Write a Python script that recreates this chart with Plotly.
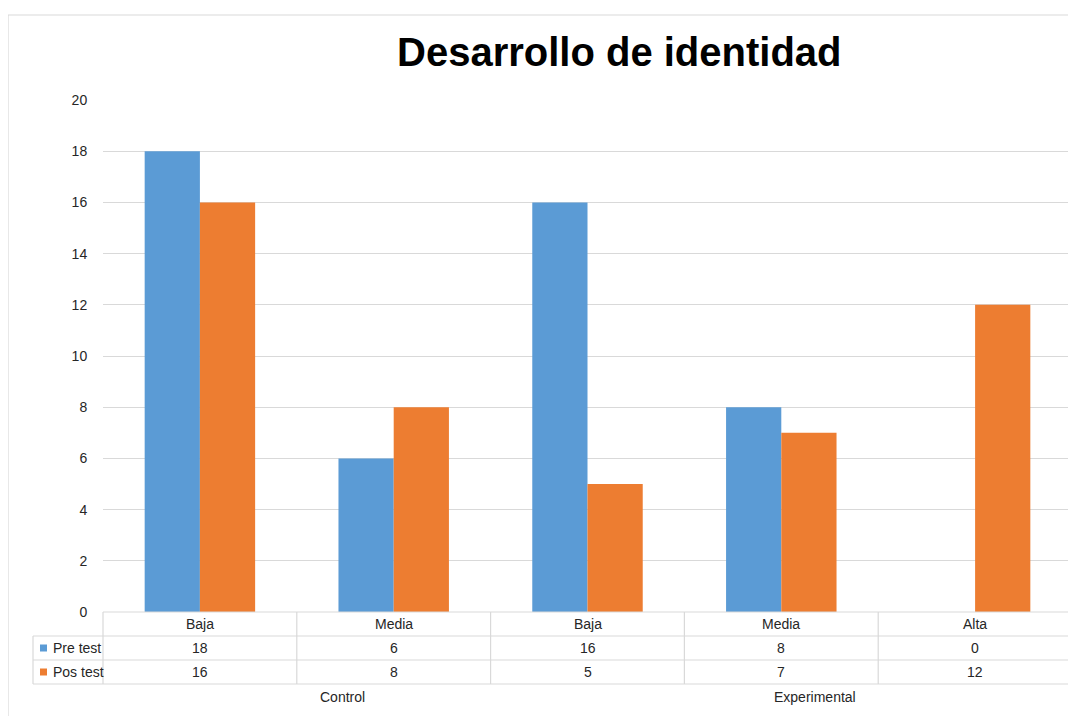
import plotly.graph_objects as go

# ---- data ----
groups = ["Control", "Control", "Experimental", "Experimental", "Experimental"]
categories = ["Baja", "Media", "Baja", "Media", "Alta"]
pre_test = [18, 6, 16, 8, 0]
pos_test = [16, 8, 5, 7, 12]
series_names = ["Pre test", "Pos test"]
title_text = "Desarrollo de identidad"
group_labels = ["Control", "Experimental"]
group_label_px = [342, 815]

BLUE = "#5B9BD5"
ORANGE = "#ED7D31"
GRID = "#d9d9d9"
TXT = "#262626"
FONT = "Liberation Sans, Arial, sans-serif"

W, H = 1076, 716
OFF = 8  # page body margin compensation
X0, X1, Y0, Y1 = 103 - OFF, 1072 - OFF, 100 - OFF, 612 - OFF


def px_x(p):
    return (p - OFF - X0) / (X1 - X0)


def px_y(p):
    return (Y1 - (p - OFF)) / (Y1 - Y0)


fig = go.Figure()
fig.add_trace(go.Bar(x=[groups, categories], y=pre_test, name=series_names[0],
                     marker=dict(color=BLUE, line=dict(width=0))))
fig.add_trace(go.Bar(x=[groups, categories], y=pos_test, name=series_names[1],
                     marker=dict(color=ORANGE, line=dict(width=0))))

shapes = []
annotations = []


def hline(x_a, x_b, y):
    shapes.append(dict(type="line", xref="paper", yref="paper",
                       x0=px_x(x_a), x1=px_x(x_b), y0=px_y(y), y1=px_y(y),
                       line=dict(color=GRID, width=1.2)))


def vline(x, y_a, y_b):
    shapes.append(dict(type="line", xref="paper", yref="paper",
                       x0=px_x(x), x1=px_x(x), y0=px_y(y_a), y1=px_y(y_b),
                       line=dict(color=GRID, width=1.2)))


# outer frame
hline(8, 1100, 15)
vline(8, 15, 740)

# data table (reference pixel positions)
rows = [612, 636, 660, 684]
LEG_L = 33
TX0, TX1 = 103, 1072
hline(TX0, TX1, rows[0])
for r in rows[1:]:
    hline(LEG_L, TX1, r)
vline(LEG_L, rows[1], rows[3])
n = len(categories)
cw = (TX1 - TX0) / n
for i in range(n + 1):
    vline(TX0 + i * cw, rows[0], rows[3])


def text(x_px, y_px, s, size=14, xanchor="center", color=TXT):
    annotations.append(dict(xref="paper", yref="paper", x=px_x(x_px), y=px_y(y_px),
                            text=s, showarrow=False, xanchor=xanchor, yanchor="middle",
                            font=dict(family=FONT, size=size, color=color)))


for i, c in enumerate(categories):
    cx = TX0 + (i + 0.5) * cw
    text(cx, (rows[0] + rows[1]) / 2, c)
    text(cx, (rows[1] + rows[2]) / 2, str(pre_test[i]))
    text(cx, (rows[2] + rows[3]) / 2, str(pos_test[i]))

# legend keys in table
for k, (nm, col) in enumerate(zip(series_names, [BLUE, ORANGE])):
    yc = (rows[1 + k] + rows[2 + k]) / 2
    shapes.append(dict(type="rect", xref="paper", yref="paper",
                       x0=px_x(40), x1=px_x(47), y0=px_y(yc + 3.5), y1=px_y(yc - 3.5),
                       fillcolor=col, line=dict(width=0)))
    text(51, yc, nm, xanchor="left")

for g, gx in zip(group_labels, group_label_px):
    text(gx, 697, g)

# title
annotations.append(dict(xref="paper", yref="paper", x=px_x(619.5), y=px_y(52),
                        text="<b>" + title_text + "</b>", showarrow=False,
                        xanchor="center", yanchor="middle",
                        font=dict(family="Liberation Sans Narrow, Arial Narrow, Liberation Sans, Arial",
                                  size=40, color="#000000")))

fig.update_layout(
    width=W, height=H, autosize=False,
    margin=dict(l=X0, r=W - X1, t=Y0, b=H - Y1, pad=0),
    paper_bgcolor="white", plot_bgcolor="white",
    barmode="group", bargap=0.43, bargroupgap=0,
    showlegend=False,
    shapes=shapes, annotations=annotations,
    font=dict(family=FONT, color=TXT),
)
fig.update_xaxes(showticklabels=False, showgrid=False, zeroline=False, showline=False,
                 ticks="", showdividers=False)
fig.update_yaxes(range=[0, 20], dtick=2, showgrid=True, gridcolor=GRID, gridwidth=1,
                 zeroline=False, showline=False, ticks="outside", ticklen=12,
                 tickcolor="rgba(0,0,0,0)", tickfont=dict(family=FONT, size=14, color=TXT))

fig.write_html("out.html")
